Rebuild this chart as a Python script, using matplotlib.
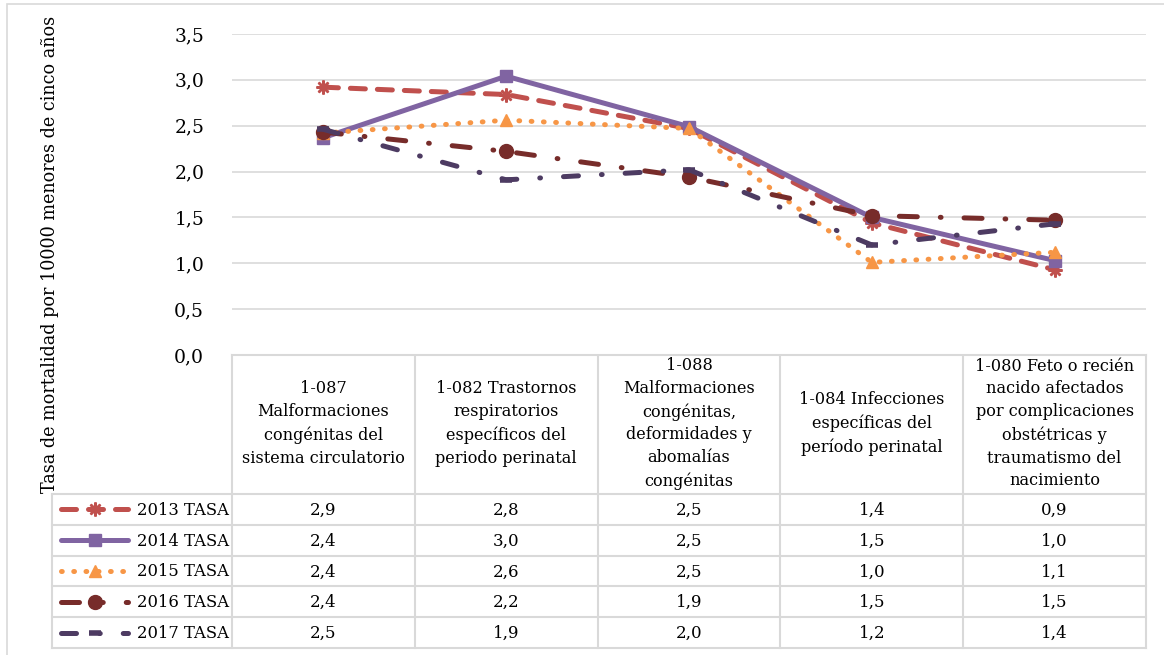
import numpy as np
import matplotlib.pyplot as plt
from matplotlib.lines import Line2D
from matplotlib.patches import Rectangle

plt.rcParams['font.family'] = ['DejaVu Serif']

categorias = ["1-087\nMalformaciones\ncongénitas del\nsistema circulatorio",
              "1-082 Trastornos\nrespiratorios\nespecíficos del\nperiodo perinatal",
              "1-088\nMalformaciones\ncongénitas,\ndeformidades y\nabomalías\ncongénitas",
              "1-084 Infecciones\nespecíficas del\nperíodo perinatal",
              "1-080 Feto o recién\nnacido afectados\npor complicaciones\nobstétricas y\ntraumatismo del\nnacimiento"]
series = ["2013 TASA", "2014 TASA", "2015 TASA", "2016 TASA", "2017 TASA"]
tasa_2013 = [2.92, 2.84, 2.47, 1.44, 0.93]
tasa_2014 = [2.37, 3.04, 2.49, 1.50, 1.03]
tasa_2015 = [2.42, 2.56, 2.47, 1.01, 1.12]
tasa_2016 = [2.43, 2.22, 1.94, 1.52, 1.47]
tasa_2017 = [2.46, 1.91, 2.02, 1.20, 1.43]
valores = [tasa_2013, tasa_2014, tasa_2015, tasa_2016, tasa_2017]

colores = ['#C0504D', '#8064A2', '#F79646', '#772C2A', '#4D3B62']
estilos = [
    dict(dashes=[3.0, 2.4], marker=(8, 2, 0), ms=10, mew=1.8),
    dict(linestyle='-', marker='s', ms=9),
    dict(dashes=[0.15, 2.3], marker='^', ms=8.5),
    dict(dashes=[3.6, 4.6, 0.15, 4.6], marker='o', ms=10),
    dict(dashes=[3.0, 4.6, 0.15, 4.6], marker='_', ms=9, mew=4),
]
gris = '#D9D9D9'
lw = 3.6

W, H = 1164, 655
fig = plt.figure(figsize=(W / 100, H / 100), dpi=100)

def fx(px):
    return px / W

def fy(py):
    return 1 - py / H

# grafico principal
ax = fig.add_axes([fx(232), fy(355), fx(1146 - 232), (355 - 34) / H])
x = np.arange(len(categorias))
for vals, col, st in zip(valores, colores, estilos):
    ax.plot(x, vals, color=col, lw=lw, dash_capstyle='round',
            solid_capstyle='round', mfc=col, mec=col, zorder=3, **st)
ax.set_xlim(-0.5, len(categorias) - 0.5)
ax.set_ylim(0, 3.5)
ax.set_yticks(np.arange(0, 3.51, 0.5))
ax.set_yticklabels([f"{v:.1f}".replace('.', ',') for v in np.arange(0, 3.51, 0.5)],
                   fontsize=13.5)
ax.tick_params(axis='y', length=0, pad=20)
ax.set_xticks([])
ax.grid(axis='y', color=gris, lw=1.2)
ax.set_axisbelow(True)
for s in ['top', 'right', 'left']:
    ax.spines[s].set_visible(False)
ax.spines['bottom'].set_color(gris)
ax.spines['bottom'].set_linewidth(1.5)

# tabla de datos
tab = fig.add_axes([0, 0, 1, 1], zorder=-1)
tab.set_xlim(0, W)
tab.set_ylim(H, 0)
tab.axis('off')
fig.canvas.draw()
centros = [ax.transData.transform((i, 0))[0] for i in x]
paso = centros[1] - centros[0]
bordes_x = [centros[0] - paso / 2] + [c + paso / 2 for c in centros]
y_top, y_head, alto = 355, 494, 30.8
y_bot = y_head + alto * len(series)

for bx in bordes_x:
    tab.plot([bx, bx], [y_top, y_bot], color=gris, lw=1.5)
tab.plot([52, 52], [y_head, y_bot], color=gris, lw=1.5)
for k in range(len(series) + 1):
    tab.plot([52, bordes_x[-1]], [y_head + k * alto] * 2, color=gris, lw=1.5)

for c, txt in zip(centros, categorias):
    tab.text(c, (y_top + y_head) / 2 - 1, txt, ha='center', va='center',
             fontsize=11.6, linespacing=1.45)

for k, (nombre, vals, col, st) in enumerate(zip(series, valores, colores, estilos)):
    yc = y_head + (k + 0.5) * alto
    tab.add_line(Line2D([61, 95, 128], [yc] * 3, color=col, lw=lw,
                        dash_capstyle='round', solid_capstyle='round',
                        mfc=col, mec=col, markevery=[1], **st))
    tab.text(137, yc + 1, nombre, ha='left', va='center', fontsize=11.8)
    for c, v in zip(centros, vals):
        tab.text(c, yc + 1, f"{v:.1f}".replace('.', ','), ha='center',
                 va='center', fontsize=12)

fig.text(fx(50), fy(254), "Tasa de mortalidad por 10000 menores de cinco años",
         rotation=90, ha='center', va='center', fontsize=12.7)

fig.patches.append(Rectangle((fx(7), fy(662)), fx(1175 - 7), (662 - 4) / H,
                             transform=fig.transFigure, fill=False,
                             edgecolor=gris, lw=1.2))

fig.savefig('out.png', dpi=100)
